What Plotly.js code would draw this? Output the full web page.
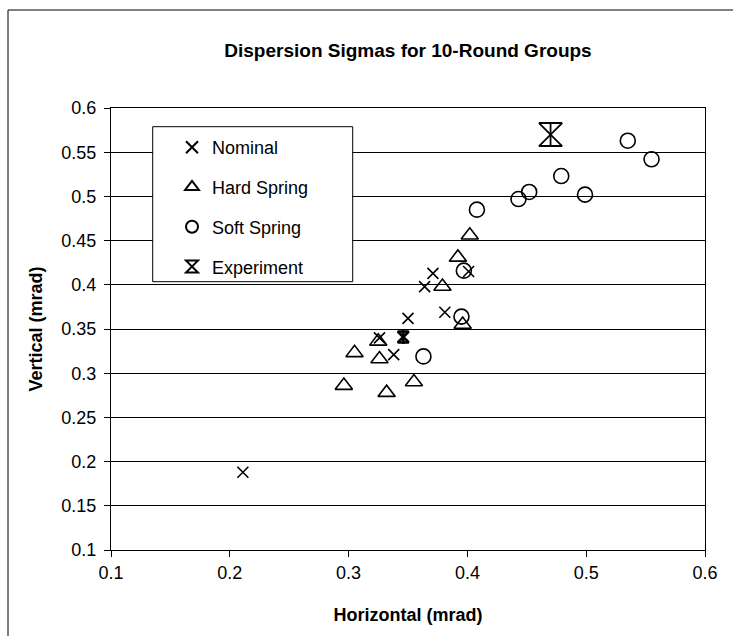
<!DOCTYPE html>
<html>
<head>
<meta charset="utf-8">
<script src="https://cdn.plot.ly/plotly-3.0.1.min.js"></script>
<style>html,body{margin:0;padding:0;background:#fff;}#chart{width:733px;height:636px;}</style>
</head>
<body>
<div id="chart"></div>
<script>
// ---- data ----
const nominalX = [0.211, 0.326, 0.338, 0.350, 0.364, 0.371, 0.381, 0.401];
const nominalY = [0.188, 0.340, 0.321, 0.362, 0.398, 0.413, 0.369, 0.415];
const hardX = [0.402, 0.392, 0.379, 0.396, 0.325, 0.305, 0.326, 0.296, 0.332, 0.355];
const hardY = [0.456, 0.431, 0.398, 0.355, 0.336, 0.323, 0.316, 0.286, 0.278, 0.290];
const softX = [0.535, 0.555, 0.479, 0.499, 0.452, 0.443, 0.408, 0.397, 0.395, 0.363];
const softY = [0.563, 0.542, 0.523, 0.502, 0.505, 0.497, 0.485, 0.416, 0.364, 0.319];
const expX = [0.346, 0.470];
const expY = [0.341, 0.570];
const seriesNames = ['Nominal', 'Hard Spring', 'Soft Spring', 'Experiment'];
const xTickVals = [0.1, 0.2, 0.3, 0.4, 0.5, 0.6];
const xTickText = ['0.1', '0.2', '0.3', '0.4', '0.5', '0.6'];
const yTickVals = [0.1, 0.15, 0.2, 0.25, 0.3, 0.35, 0.4, 0.45, 0.5, 0.55, 0.6];
const yTickText = ['0.1', '0.15', '0.2', '0.25', '0.3', '0.35', '0.4', '0.45', '0.5', '0.55', '0.6'];

const FONT = 'Liberation Sans, Arial, sans-serif';
const mk = (symbol, size, w) => ({symbol: symbol, size: size, color: 'black', opacity: 1, line: {color: 'black', width: w}});

const traces = [
  {x: nominalX, y: nominalY, name: seriesNames[0], type: 'scatter', mode: 'markers', legendgroup: 'a',
   marker: mk('x-thin-open', 11, 1.6)},
  {x: hardX, y: hardY, name: seriesNames[1], type: 'scatter', mode: 'markers', legendgroup: 'b',
   marker: mk('triangle-up-open', 15, 1.6)},
  {x: softX, y: softY, name: seriesNames[2], type: 'scatter', mode: 'markers', legendgroup: 'c',
   marker: mk('circle-open', 15, 1.6)},
  {x: expX, y: expY, name: seriesNames[3], type: 'scatter', mode: 'markers', legendgroup: 'd',
   marker: {symbol: 'hourglass-open', size: [11, 23], color: 'black', opacity: 1, line: {color: 'black', width: [2.6, 1.8]}}},
  {x: expX, y: expY, name: seriesNames[3], type: 'scatter', mode: 'markers', legendgroup: 'd', showlegend: false,
   marker: {symbol: 'line-ns-open', size: [10, 16], color: 'black', opacity: 1, line: {color: 'black', width: [2.6, 1.8]}}}
];

const L = 111, T = 108, W = 594, H = 442;
const px2x = p => (p - L) / W;
const px2y = p => (T + H - p) / H;

const layout = {
  width: 733, height: 636,
  margin: {l: L, r: 733 - L - W, t: T, b: 636 - T - H, pad: 0},
  paper_bgcolor: 'white', plot_bgcolor: 'white',
  font: {family: FONT, size: 18, color: 'black'},
  title: {text: '<b>Dispersion Sigmas for 10-Round Groups</b>', x: 0.5, xref: 'paper', xanchor: 'center',
          y: 1 - 50 / 636, yref: 'container', yanchor: 'middle', font: {family: FONT, size: 19, color: 'black'}},
  xaxis: {range: [0.1, 0.6], tickvals: xTickVals, ticktext: xTickText, showgrid: false, zeroline: false,
          showline: true, linecolor: 'black', linewidth: 1, mirror: true,
          ticks: 'outside', ticklen: 6, tickcolor: 'black', tickwidth: 1,
          tickfont: {family: FONT, size: 18, color: 'black'},
          title: {text: '<b>Horizontal (mrad)</b>', font: {family: FONT, size: 18, color: 'black'}, standoff: 26}},
  yaxis: {range: [0.1, 0.6], tickvals: yTickVals, ticktext: yTickText, showgrid: true, gridcolor: 'black', gridwidth: 1,
          zeroline: false, showline: true, linecolor: 'black', linewidth: 1, mirror: true,
          ticks: 'outside', ticklen: 6, tickcolor: 'black', tickwidth: 1, ticklabelstandoff: 4,
          tickfont: {family: FONT, size: 18, color: 'black'},
          title: {text: '<b>Vertical (mrad)</b>', font: {family: FONT, size: 18, color: 'black'}, standoff: 14}},
  showlegend: true,
  legend: {x: px2x(172), xanchor: 'left', y: px2y(129), yanchor: 'top', bgcolor: 'rgba(0,0,0,0)', borderwidth: 0,
           font: {family: FONT, size: 18, color: 'black'}, tracegroupgap: 13.4, itemsizing: 'constant'},
  shapes: [
    {type: 'rect', xref: 'paper', yref: 'paper', x0: px2x(152.7), x1: px2x(352.7), y0: px2y(281.7), y1: px2y(126.7),
     fillcolor: 'white', line: {color: 'black', width: 1}, layer: 'above'},
    {type: 'rect', xref: 'paper', yref: 'paper', x0: px2x(8), x1: px2x(760), y0: px2y(660), y1: px2y(10),
     fillcolor: 'rgba(0,0,0,0)', line: {color: 'black', width: 1}, layer: 'above'}
  ]
};

Plotly.newPlot('chart', traces, layout, {displayModeBar: false, staticPlot: true});
</script>
</body>
</html>
